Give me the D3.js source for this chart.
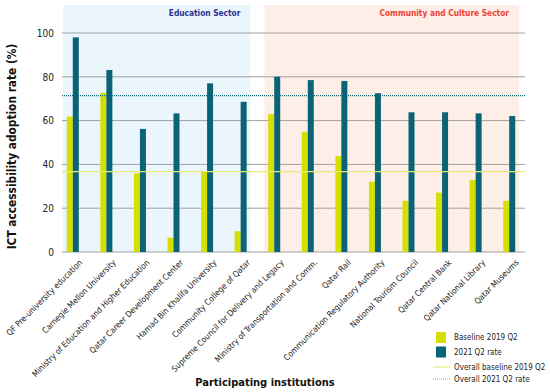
<!doctype html>
<html>
<head>
<meta charset="utf-8">
<style>
  body { margin: 0; background: #fff; }
  text { font-family: "DejaVu Sans Condensed", "Roboto", sans-serif; }
</style>
<script src="https://d3js.org/d3.v7.min.js"></script>
</head>
<body>
<script>
var institutions = [
  "QF Pre-university education", "Carnegie Mellon University",
  "Ministry of Education and Higher Education", "Qatar Career Development Center",
  "Hamad Bin Khalifa University", "Community College of Qatar",
  "Supreme Council for Delivery and Legacy", "Ministry of Transportation and Comm.",
  "Qatar Rail", "Communication Regulatory Authority", "National Tourism Council",
  "Qatar Central Bank", "Qatar National Library", "Qatar Museums"
];
var baseline2019 = [61.8, 72.7, 35.9, 6.5, 36.7, 9.5, 63, 54.9, 43.8, 32.1, 23.4, 27.1, 32.9, 23.4];
var rate2021 = [98, 83.1, 56.2, 63.3, 77, 68.6, 80, 78.5, 78.1, 72.5, 63.8, 63.8, 63.3, 62.1];
var overallBaseline = 36.7;
var overall2021 = 71.4;
var yTicks = [0, 20, 40, 60, 80, 100];
var sectors = [
  {name: "Education Sector", first: 0, last: 5, fill: "#eaf5fc", color: "#2e3192"},
  {name: "Community and Culture Sector", first: 6, last: 13, fill: "#fdeee7", color: "#ef4136"}
];
var legendText = ["Baseline 2019 Q2", "2021 Q2 rate", "Overall baseline 2019 Q2", "Overall 2021 Q2 rate"];

var yellow = "#d6e000", teal = "#0b6475";

var svg = d3.select("body").append("svg")
    .attr("width", 550)
    .attr("height", 392);

var x = d3.scaleBand().domain(institutions).range([56, 526]);
var y = d3.scaleLinear().domain([0, 100]).range([252, 33]);
var gridLeft = 62, gridRight = 525, barW = 6;

// sector backgrounds
sectors.forEach(function(s) {
  var x0 = x(institutions[s.first]) + 7;
  var x1 = x(institutions[s.last]) + x.bandwidth() - 7;
  svg.append("rect")
    .attr("x", x0).attr("y", 5)
    .attr("width", x1 - x0).attr("height", y(0) - 5)
    .attr("fill", s.fill);
  svg.append("text")
    .attr("x", x1 - 10).attr("y", 16)
    .attr("text-anchor", "end")
    .attr("font-size", "8.3px")
    .attr("font-weight", "bold")
    .attr("fill", s.color)
    .text(s.name);
});

// grid
svg.append("g").selectAll("line")
  .data(yTicks)
  .enter().append("line")
  .attr("x1", gridLeft).attr("x2", gridRight)
  .attr("y1", function(d) { return y(d); })
  .attr("y2", function(d) { return y(d); })
  .attr("stroke", "#a0a0a0")
  .attr("stroke-width", 1);

// y axis labels
var yAxis = svg.append("g")
  .attr("transform", "translate(" + gridLeft + ",0)")
  .call(d3.axisLeft(y).tickValues(yTicks).tickSize(0).tickPadding(8));
yAxis.select(".domain").remove();
yAxis.selectAll("text").attr("font-size", "10px").attr("fill", "#222")
  .style("font-family", "'DejaVu Sans Condensed', sans-serif");

// bars
var cx = function(i) { return x(institutions[i]) + x.bandwidth() / 2; };
svg.append("g").selectAll("rect")
  .data(baseline2019)
  .enter().append("rect")
  .attr("x", function(d, i) { return cx(i) - barW; })
  .attr("y", function(d) { return y(d); })
  .attr("width", barW)
  .attr("height", function(d) { return y(0) - y(d); })
  .attr("fill", yellow);
svg.append("g").selectAll("rect")
  .data(rate2021)
  .enter().append("rect")
  .attr("x", function(d, i) { return cx(i); })
  .attr("y", function(d) { return y(d); })
  .attr("width", barW)
  .attr("height", function(d) { return y(0) - y(d); })
  .attr("fill", teal);

// overall lines
svg.append("line")
  .attr("x1", gridLeft).attr("x2", gridRight)
  .attr("y1", y(overallBaseline)).attr("y2", y(overallBaseline))
  .attr("stroke", "#e4ec7a").attr("stroke-width", 1.2);
svg.append("line")
  .attr("x1", gridLeft).attr("x2", gridRight)
  .attr("y1", y(overall2021)).attr("y2", y(overall2021))
  .attr("stroke", teal).attr("stroke-width", 1.2)
  .attr("stroke-dasharray", "1,1");

// x labels
svg.append("g").selectAll("text")
  .data(institutions)
  .enter().append("text")
  .attr("transform", function(d, i) {
    return "translate(" + (cx(i) + 6) + "," + (y(0) + 7) + ") rotate(-45)";
  })
  .attr("text-anchor", "end")
  .attr("dy", "0.7em")
  .attr("font-size", "8.3px")
  .attr("fill", "#222")
  .text(function(d) { return d; });

// axis titles
svg.append("text")
  .attr("transform", "translate(16," + ((y(0) + 33) / 2 + 4) + ") rotate(-90)")
  .attr("text-anchor", "middle")
  .attr("font-size", "11.8px")
  .attr("font-weight", "bold")
  .attr("fill", "#111")
  .text("ICT accessibility adoption rate (%)");
svg.append("text")
  .attr("x", 265).attr("y", 386)
  .attr("text-anchor", "middle")
  .attr("font-size", "11px")
  .attr("font-weight", "bold")
  .attr("fill", "#111")
  .text("Participating institutions");

// legend
var lg = svg.append("g").attr("transform", "translate(436,332)");
lg.append("rect").attr("x", 0).attr("y", 0).attr("width", 10).attr("height", 11).attr("fill", yellow);
lg.append("rect").attr("x", 0).attr("y", 14.5).attr("width", 10).attr("height", 11).attr("fill", teal);
lg.append("line").attr("x1", -3).attr("x2", 14).attr("y1", 35).attr("y2", 35)
  .attr("stroke", "#e4ec7a").attr("stroke-width", 1.2);
lg.append("line").attr("x1", -3).attr("x2", 14).attr("y1", 47).attr("y2", 47)
  .attr("stroke", "#7fb3c0").attr("stroke-width", 1.2).attr("stroke-dasharray", "1,1");
lg.selectAll(".lt")
  .data(legendText)
  .enter().append("text")
  .attr("class", "lt")
  .attr("x", 18)
  .attr("y", function(d, i) { return [8, 23, 38, 50][i]; })
  .attr("font-size", "8px")
  .attr("fill", "#222")
  .text(function(d) { return d; });
</script>
</body>
</html>
